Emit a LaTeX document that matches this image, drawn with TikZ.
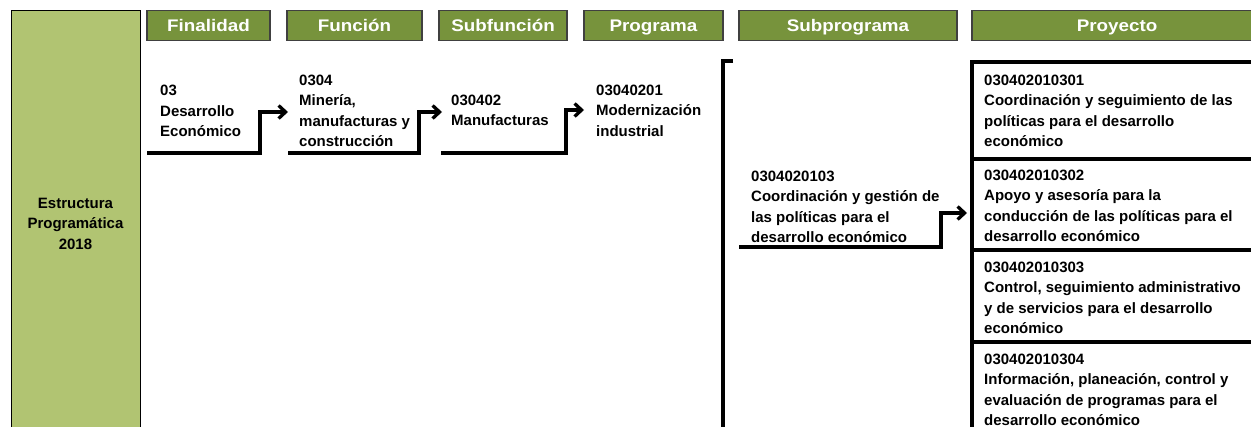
\documentclass[tikz,border=0pt]{standalone}
\usepackage{fontspec}
\setmainfont{Liberation Sans}
\newfontfamily\headfont{Liberation Sans}[FakeStretch=1.12]
\usetikzlibrary{arrows.meta, calc}
\definecolor{LGreen}{HTML}{B1C472}
\definecolor{DGreen}{HTML}{77933C}
\definecolor{DEdge}{HTML}{404040}
\newcommand{\tx}{\fontsize{15}{20.5}\selectfont\bfseries}
\newcommand{\hd}{\headfont\fontsize{16.8}{18}\selectfont\bfseries}
\tikzset{
    head/.style={draw=DEdge, line width=1.2pt, fill=DGreen, text=white, font=\hd,
        inner sep=0, minimum height=30, text height=14.5, text depth=1.5},
    txt/.style={font=\tx, align=left, anchor=north west, inner sep=0},
    link/.style={line width=3.3pt, -{Straight Barb[length=7pt, width=13pt]}},
    heavy/.style={line width=3.3pt}
}
\NewDocumentCommand{\Header}{m m m m}{
    \node[head, minimum width={#3-#2}] (#1) at ({(#2+#3)/2},25.5) {#4};
}

\begin{document}
\begin{tikzpicture}[x=1pt, y=-1pt]
\useasboundingbox (0,0) rectangle (1251,427);
\clip (0,0) rectangle (1251,427);

% left column
\node[draw=black, line width=1pt, fill=LGreen, anchor=north west, inner sep=0,
    minimum width=129, minimum height=430] (estr) at (11,10) {};
\node[font=\tx, align=center, anchor=north, inner sep=0] (estr-txt) at (75.5,193.6)
    {\strut Estructura\\Programática\\2018};

% headers
\Header{h-fin}{147}{270}{Finalidad}
\Header{h-fun}{287}{422}{Función}
\Header{h-sub}{439}{567}{Subfunción}
\Header{h-pro}{584}{723}{Programa}
\Header{h-spr}{739}{957}{Subprograma}
\Header{h-pry}{972}{1262}{Proyecto}

% levels
\node[txt] (fin) at (160,81) {\strut 03\\Desarrollo\\Económico};
\node[txt] (fun) at (299,70.6) {\strut 0304\\Minería,\\manufacturas y\\construcción};
\node[txt] (sub) at (451,90.6) {\strut 030402\\Manufacturas};
\node[txt] (pro) at (596,80.6) {\strut 03040201\\Modernización\\industrial};
\node[txt] (spr) at (751,166.6) {\strut 0304020103\\Coordinación y gestión de\\las políticas para el\\desarrollo económico};

\coordinate (u1) at (147,153); \coordinate (k1) at (260,112); \coordinate (a1) at (288,112);
\coordinate (u2) at (288,153); \coordinate (k2) at (419,112); \coordinate (a2) at (442,112);
\coordinate (u3) at (441,153); \coordinate (k3) at (566,110); \coordinate (a3) at (584,110);
\coordinate (u5) at (739,247); \coordinate (k5) at (941,213); \coordinate (a5) at (967,213);

\draw[link] (u1) -| (k1) -- (a1);
\draw[link] (u2) -| (k2) -- (a2);
\draw[link] (u3) -| (k3) -- (a3);
\draw[link] (u5) -| (k5) -- (a5);

% bracket
\draw[heavy] (733,61) -- (723,61) -- (723,440);

% projects
\draw[heavy] (1270,62) -- (972,62) -- (972,440);
\foreach \y in {159,250,342}
    \draw[heavy] (972,\y) -- (1270,\y);
\node[txt] (p1) at (984,70.6) {\strut 030402010301\\Coordinación y seguimiento de las\\políticas para el desarrollo\\económico};
\node[txt] (p2) at (984,165.6) {\strut 030402010302\\Apoyo y asesoría para la\\conducción de las políticas para el\\desarrollo económico};
\node[txt] (p3) at (984,257.6) {\strut 030402010303\\Control, seguimiento administrativo\\y de servicios para el desarrollo\\económico};
\node[txt] (p4) at (984,349.6) {\strut 030402010304\\Información, planeación, control y\\evaluación de programas para el\\desarrollo económico};

\end{tikzpicture}
\end{document}
